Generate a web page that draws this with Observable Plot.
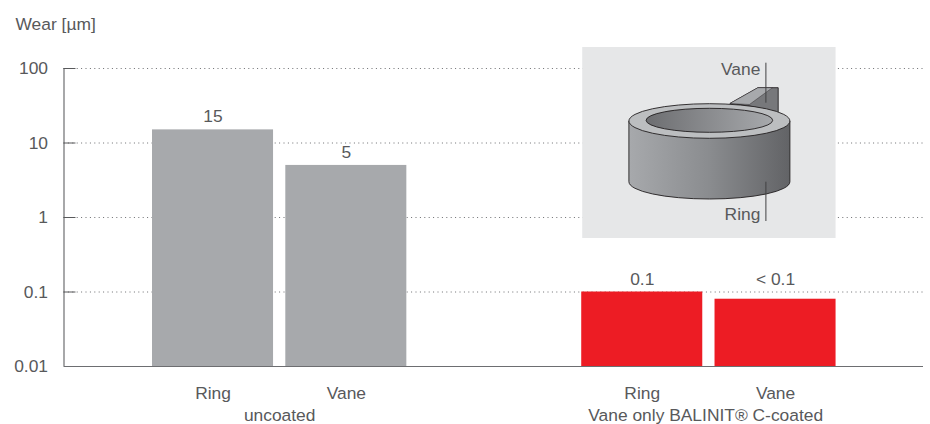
<!DOCTYPE html>
<html><head><meta charset="utf-8">
<script src="https://cdn.jsdelivr.net/npm/d3@7"></script>
<script src="https://cdn.jsdelivr.net/npm/@observablehq/plot@0.6"></script>
<style>html,body{margin:0;padding:0;background:#fff}svg{display:block}</style>
</head><body><div id="chart"></div>
<script>
const groups = ["uncoated", "Vane only BALINIT® C-coated"];
const parts = ["Ring", "Vane", "Ring", "Vane"];
const groupIndex = [0, 0, 1, 1];
const values = [15, 5, 0.1, 0.08];
const valueLabels = ["15", "5", "0.1", "< 0.1"];
const yTicks = [0.01, 0.1, 1, 10, 100];
const yTickLabels = ["0.01", "0.1", "1", "10", "100"];
const gridTicks = [0.1, 1, 10, 100];

const groupGap = 1.22, barWidth = 0.908;
const xMin = -0.664, xMax = 5.784, tickLen = 0.09;
const bars = values.map((v, i) => {
  const start = (i % 2) + groupIndex[i] * (2 + groupGap);
  return {part: parts[i], group: groupIndex[i], value: v, label: valueLabels[i],
          x1: start, x2: start + barWidth, mid: start + barWidth / 2};
});
const groupLabels = groups.map((g, k) => {
  const m = bars.filter(b => b.group === k);
  return {text: g, x: (m[0].x1 + m[1].x2) / 2 - k * 0.024};
});
const ink = "#58595b", axis = "#6d6e71", fs = 17.4;
const font = "'Liberation Sans', Arial, sans-serif";

function illustration(index, scales, vals, dim, ctx) {
  const g = d3.select(ctx.document.createElementNS("http://www.w3.org/2000/svg", "g"));
  const left = scales.x(bars[2].x1), right = scales.x(bars[3].x2);
  const ox = (left + right) / 2, top = 47;
  g.append("rect").attr("x", left + 1).attr("y", top).attr("width", right - left - 1).attr("height", 191).attr("fill", "#e6e7e8");
  const defs = g.append("defs");
  const grad = (id, stops) => {
    const lg = defs.append("linearGradient").attr("id", id);
    stops.forEach(([o, c]) => lg.append("stop").attr("offset", o).attr("stop-color", c));
  };
  grad("ringSide", [[0, "#a7a9ac"], [0.5, "#8a8c8f"], [1, "#626366"]]);
  grad("ringHole", [[0, "#6d6e71"], [1, "#a7a9ac"]]);
  const c = g.append("g").attr("transform", `translate(${ox + 1},0)`).attr("stroke", "#231f20").attr("stroke-width", 0.9);
  // vane
  c.append("path").attr("d", "M20.5,103.5 L48.5,87.7 L68.8,87.7 L68.8,112 L40,106 Z").attr("fill", "#77787b");
  c.append("path").attr("d", "M20.5,103.5 L48.5,87.7 L63,87.7 L40,104.5 Z").attr("fill", "#a7a9ac").attr("stroke-width", 0.4);
  // ring
  const rx = 80.5, ry = 17.3, cy = 121, by = 181.7;
  c.append("path").attr("d", `M${-rx},${cy} L${-rx},${by} A${rx},${ry} 0 0 0 ${rx},${by} L${rx},${cy} Z`).attr("fill", "url(#ringSide)");
  c.append("ellipse").attr("rx", rx).attr("ry", ry).attr("cy", cy).attr("fill", "#bcbec0");
  c.append("ellipse").attr("rx", 63.3).attr("ry", 12).attr("cy", 120.3).attr("fill", "url(#ringHole)");
  // leader lines
  const lead = g.append("g").attr("stroke", "#414042").attr("stroke-width", 1);
  lead.append("line").attr("x1", ox + 57.5).attr("x2", ox + 57.5).attr("y1", 62.7).attr("y2", 102.7);
  lead.append("line").attr("x1", ox + 57.5).attr("x2", ox + 57.5).attr("y1", 181.7).attr("y2", 221);
  const t = g.append("g").attr("fill", ink).attr("font-size", fs).attr("font-family", font).attr("text-anchor", "end");
  t.append("text").attr("x", ox + 52).attr("y", 75).text("Vane");
  t.append("text").attr("x", ox + 52).attr("y", 220).text("Ring");
  return g.node();
}

const plot = Plot.plot({
  width: 930, height: 424,
  marginLeft: 63.5, marginRight: 7, marginTop: 68, marginBottom: 58,
  style: {fontFamily: font, fontSize: "16px", color: ink, background: "#fff"},
  x: {type: "linear", domain: [xMin, xMax], axis: null},
  y: {type: "log", domain: [0.01, 100], axis: null},
  marks: [
    Plot.ruleY(gridTicks, {stroke: axis, strokeWidth: 1, strokeDasharray: "1 3.4"}),
    Plot.rectY(bars, {x1: "x1", x2: "x2", y1: () => 0.01, y2: "value", fill: d => d.group ? "#ed1c24" : "#a7a9ac"}),
    illustration,
    Plot.ruleX([xMin], {y1: 0.01, y2: 100, stroke: axis, strokeWidth: 1.2}),
    Plot.ruleY([0.01], {stroke: axis, strokeWidth: 1.2}),
    Plot.ruleY(gridTicks, {x1: xMin, x2: xMin + tickLen, stroke: ink, strokeWidth: 1}),
    Plot.text(yTicks, {x: () => xMin, y: d => d, text: (d, i) => yTickLabels[i], textAnchor: "end", dx: -16, fill: ink, fontSize: fs}),
    Plot.text(bars, {x: "mid", y: d => Math.max(d.value, 0.1), text: "label", dy: -13, fill: ink, fontSize: fs}),
    Plot.text(bars, {x: "mid", y: () => 0.01, text: "part", dy: 27, fill: ink, fontSize: fs}),
    Plot.text(groupLabels, {x: "x", y: () => 0.01, text: "text", dy: 49, fill: ink, fontSize: fs}),
    Plot.text(["Wear [µm]"], {frameAnchor: "top-left", text: d => d, dx: -48.5, dy: -51, fill: ink, fontSize: fs, lineAnchor: "top", textAnchor: "start"})
  ]
});
document.getElementById("chart").appendChild(plot);
</script></body></html>
